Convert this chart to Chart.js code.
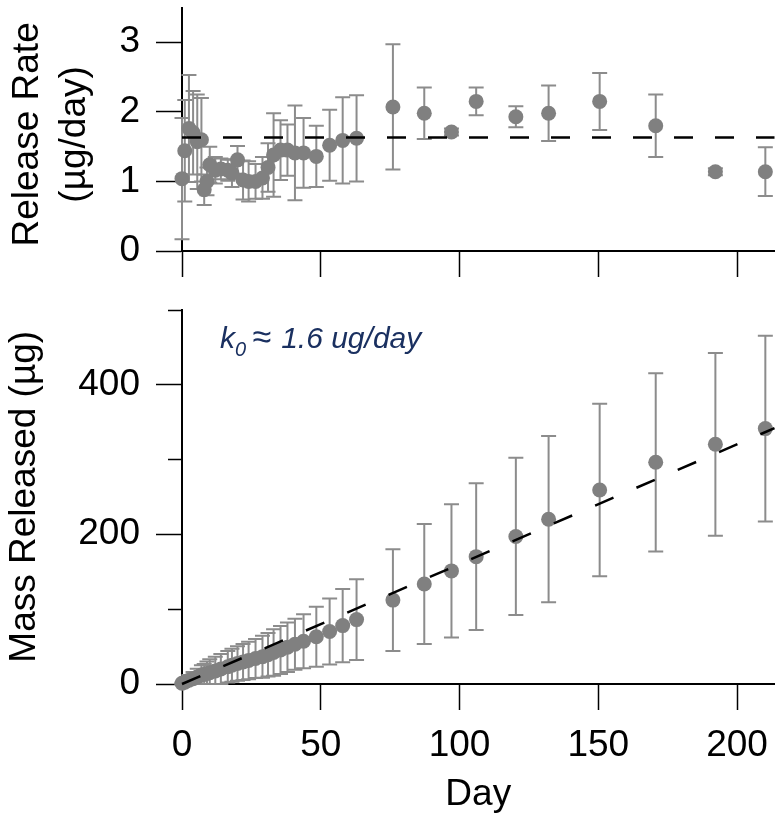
<!DOCTYPE html>
<html>
<head>
<meta charset="utf-8">
<script src="https://cdn.jsdelivr.net/npm/chart.js@4.4.0/dist/chart.umd.min.js"></script>
<style>
  body { margin: 0; background: #fff; }
  #wrap { position: relative; width: 782px; height: 814px; overflow: hidden; }
  #rateChart { position: absolute; left: 0; top: 0; }
  #massChart { position: absolute; left: 0; top: 290px; }
  #k0 {
    position: absolute; left: 220px; top: 323px;
    font: italic 30px/30px 'Liberation Sans', Arial, sans-serif;
    color: #1a3060; white-space: nowrap;
  }
  #k0 sub { font-size: 20px; vertical-align: -8px; line-height: 0; }
  #k0 .approx { font-size: 34px; line-height: 0; margin: 0 2px 0 6px; }
</style>
</head>
<body>
<div id="wrap">
  <canvas id="rateChart" width="782" height="290" style="width:782px;height:290px"></canvas>
  <canvas id="massChart" width="782" height="524" style="width:782px;height:524px"></canvas>
  <div id="k0">k<sub>0</sub><span class="approx">≈</span> 1.6 ug/day</div>
</div>
<script>
// sampling days (same for both panels)
const days = [0, 1, 2.5, 4, 5.5, 7, 8, 9, 10, 12, 14, 16.5, 18, 20, 22, 24, 26.5, 29, 31, 33,
  35.5, 38, 40.7, 43.8, 48.4, 53.2, 57.9, 62.9, 76, 87.3, 97.1, 106, 120.3, 132.1, 150.5, 170.7, 192.2, 210.2];

// release rate (ug/day) and its error
const rateValues = [1.04, 1.44, 1.76, 1.70, 1.57, 1.60, 0.88, 1.00, 1.24, 1.16, 1.18, 1.16, 1.12, 1.31, 1.02, 1.00, 1.00, 1.05, 1.20, 1.38,
  1.45, 1.45, 1.41, 1.41, 1.36, 1.52, 1.59, 1.62, 2.07, 1.98, 1.71, 2.15, 1.93, 1.98, 2.15, 1.80, 1.14, 1.14];
const rateErrors = [0.87, 0.73, 0.77, 0.60, 0.68, 0.60, 0.22, 0.20, 0.26, 0.19, 0.15, 0.15, 0.20, 0.20, 0.28, 0.29, 0.25, 0.30, 0.35, 0.60,
  0.43, 0.37, 0.68, 0.50, 0.44, 0.51, 0.62, 0.62, 0.90, 0.37, 0.05, 0.20, 0.15, 0.40, 0.41, 0.45, 0.05, 0.35];

// cumulative mass released (ug) and its error
const massValues = [1, 2.5, 5, 7, 9.5, 12, 12.8, 14, 15, 17.5, 20, 23, 25, 27.5, 29.5, 31.5, 34, 36.5, 39, 42,
  45.5, 49, 53, 57, 63, 70, 78, 86, 112, 133.5, 151, 170, 197, 220, 259, 296, 320, 341];
const massErrors = [1, 4, 7, 9, 11, 13, 14, 16, 18, 19, 20, 21, 22, 23, 24, 25, 26, 28, 29, 31,
  32, 33, 34, 36, 40, 44, 49, 54, 68, 80, 89, 98, 105, 111, 115, 119, 122, 124];

const fitRate = 1.63;     // mean release rate, top panel
const fitSlope = 1.6;     // k0, bottom panel
const dayMax = 213.5;
const xTickStep = 50;
const rateMax = 3.5, rateStep = 1;
const massMax = 500, massStep = 200;
const massMinorTicks = [100, 300, 500];

Chart.defaults.font.family = "'Liberation Sans', Arial, sans-serif";
Chart.defaults.font.size = 37;
Chart.defaults.color = '#000';

const POINT = '#808080';
const ERRBAR = '#8c8c8c';

// vertical error bars with caps, drawn under the points
const errorBars = {
  id: 'errorBars',
  beforeDatasetsDraw(chart) {
    const ctx = chart.ctx;
    const xs = chart.scales.x, ys = chart.scales.y;
    chart.data.datasets.forEach(ds => {
      if (!ds.errors) return;
      ctx.save();
      ctx.strokeStyle = ERRBAR;
      ctx.lineWidth = 2;
      ds.data.forEach((p, i) => {
        const px = xs.getPixelForValue(p.x);
        const top = ys.getPixelForValue(p.y + ds.errors[i]);
        const bot = ys.getPixelForValue(Math.max(p.y - ds.errors[i], 0));
        ctx.beginPath();
        ctx.moveTo(px, top); ctx.lineTo(px, bot);
        ctx.moveTo(px - 7.5, top); ctx.lineTo(px + 7.5, top);
        ctx.moveTo(px - 7.5, bot); ctx.lineTo(px + 7.5, bot);
        ctx.stroke();
      });
      ctx.restore();
    });
  }
};

// short unlabeled ticks on the y axis
const minorTicks = {
  id: 'minorTicks',
  afterDraw(chart, args, opts) {
    if (!opts.values) return;
    const ctx = chart.ctx;
    const ys = chart.scales.y;
    const left = chart.chartArea.left;
    ctx.save();
    ctx.strokeStyle = '#000';
    ctx.lineWidth = 1.5;
    opts.values.forEach(v => {
      const py = Math.round(ys.getPixelForValue(v)) + 0.5;
      ctx.beginPath();
      ctx.moveTo(left - 14, py); ctx.lineTo(left, py);
      ctx.stroke();
    });
    ctx.restore();
  }
};

function axisGrid() {
  return { drawOnChartArea: false, drawTicks: true, tickLength: 26, color: '#000', tickColor: '#000', tickWidth: 1.5 };
}

function makeChart(canvasId, values, errors, fitData, opts) {
  return new Chart(document.getElementById(canvasId), {
    type: 'scatter',
    data: {
      datasets: [
        {
          data: fitData,
          showLine: true,
          borderColor: '#000',
          borderWidth: 2.5,
          borderDash: opts.dash,
          pointRadius: 0,
          clip: false,
          order: 0
        },
        {
          data: days.map((d, i) => ({ x: d, y: values[i] })),
          errors: errors,
          pointRadius: 7.5,
          pointBorderWidth: 0,
          pointBackgroundColor: POINT,
          borderColor: POINT,
          clip: false,
          order: 1
        }
      ]
    },
    options: {
      responsive: false,
      animation: false,
      layout: { padding: { top: opts.padTop, left: 0, right: 0, bottom: 0 } },
      plugins: {
        legend: { display: false },
        tooltip: { enabled: false },
        minorTicks: { values: opts.minor }
      },
      scales: {
        x: {
          type: 'linear',
          min: 0,
          max: dayMax,
          grid: axisGrid(),
          border: { display: true, color: '#000', width: 2 },
          ticks: { display: opts.showX, stepSize: xTickStep, includeBounds: false, padding: 14 },
          title: { display: opts.showX, text: 'Day', padding: { top: 0, bottom: -3 } },
          afterFit: s => { s.height = opts.xHeight; s.paddingLeft = 0; s.paddingRight = 0; }
        },
        y: {
          type: 'linear',
          min: 0,
          max: opts.yMax,
          grid: axisGrid(),
          border: { display: true, color: '#000', width: 2 },
          ticks: { stepSize: opts.yStep, includeBounds: false, padding: 16 },
          title: {
            display: true,
            text: opts.yTitle,
            font: { size: 37, lineHeight: opts.titleLH },
            padding: { top: opts.titlePad, bottom: 0 }
          },
          afterFit: s => { s.width = 182; s.paddingTop = 0; s.paddingBottom = 0; }
        }
      }
    },
    plugins: [errorBars, minorTicks]
  });
}

makeChart('rateChart', rateValues, rateErrors,
  [{ x: 0, y: fitRate }, { x: dayMax, y: fitRate }],
  { dash: [19, 22], padTop: 7, showX: false, xHeight: 39, yMax: rateMax, yStep: rateStep,
    yTitle: ['Release Rate ', '(µg/day) '], titleLH: '47.5px', titlePad: 4, minor: null });

makeChart('massChart', massValues, massErrors,
  [{ x: 0, y: 0 }, { x: dayMax, y: fitSlope * dayMax }],
  { dash: [20, 25], padTop: 19.5, showX: true, xHeight: 130, yMax: massMax, yStep: massStep,
    yTitle: 'Mass Released (µg)', titleLH: 1.2, titlePad: 3, minor: massMinorTicks });
</script>
</body>
</html>
